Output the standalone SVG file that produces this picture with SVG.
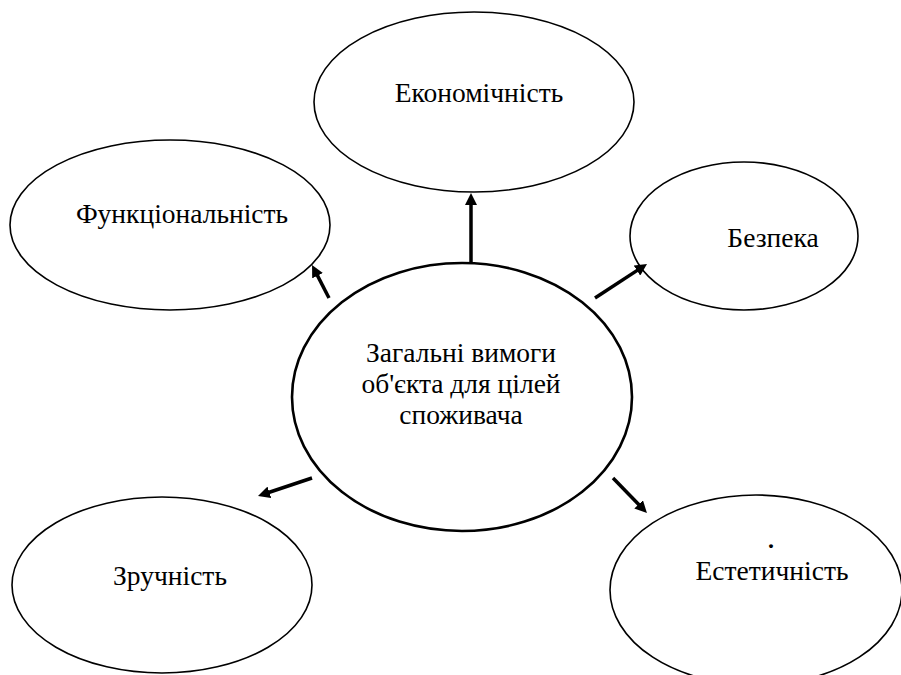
<svg xmlns="http://www.w3.org/2000/svg" width="901" height="675" viewBox="0 0 901 675">
  <style>
    .node ellipse { fill: #ffffff; stroke: #000000; stroke-width: 1.6; }
    #center ellipse { stroke-width: 2.6; }
    text { font-family: 'Liberation Serif', 'Times New Roman', serif; font-size: 27.5px; fill: #000000; text-anchor: middle; }
    .mark { font-size: 24px; font-weight: bold; }
    .conn line { stroke: #000000; stroke-width: 3.5; marker-end: url(#arrow); }
  </style>
  <defs>
    <marker id="arrow" markerUnits="userSpaceOnUse" markerWidth="12" markerHeight="12" refX="4" refY="6" orient="auto">
      <path d="M0,0 L12,6 L0,12 z" fill="#000000"/>
    </marker>
  </defs>
  <rect width="901" height="675" fill="#ffffff"/>

  <g id="economy" class="node">
    <ellipse cx="474" cy="102" rx="160" ry="90"/>
    <text x="479" y="102">Економічність</text>
  </g>

  <g id="functionality" class="node">
    <ellipse cx="170" cy="225" rx="160" ry="85"/>
    <text x="182" y="223">Функціональність</text>
  </g>

  <g id="safety" class="node">
    <ellipse cx="744" cy="236" rx="114" ry="74"/>
    <text x="773" y="247">Безпека</text>
  </g>

  <g id="center" class="node">
    <ellipse cx="462" cy="397" rx="170" ry="134"/>
    <text x="461" y="362">Загальні вимоги</text>
    <text x="461" y="393">об'єкта для цілей</text>
    <text x="461" y="424">споживача</text>
  </g>

  <g id="convenience" class="node">
    <ellipse cx="162" cy="585" rx="150" ry="88"/>
    <text x="170" y="585">Зручність</text>
  </g>

  <g id="aesthetics" class="node">
    <ellipse cx="756" cy="590" rx="146" ry="95"/>
    <text class="mark" x="771" y="548">.</text>
    <text x="772" y="580">Естетичність</text>
  </g>

  <g id="connectors" class="conn">
    <line x1="471" y1="263" x2="471" y2="201"/>
    <line x1="329" y1="298" x2="315.7" y2="272.1"/>
    <line x1="595" y1="298" x2="640.3" y2="268.4"/>
    <line x1="312" y1="478" x2="265.6" y2="493.5"/>
    <line x1="613" y1="478" x2="641.4" y2="507.3"/>
  </g>
</svg>
